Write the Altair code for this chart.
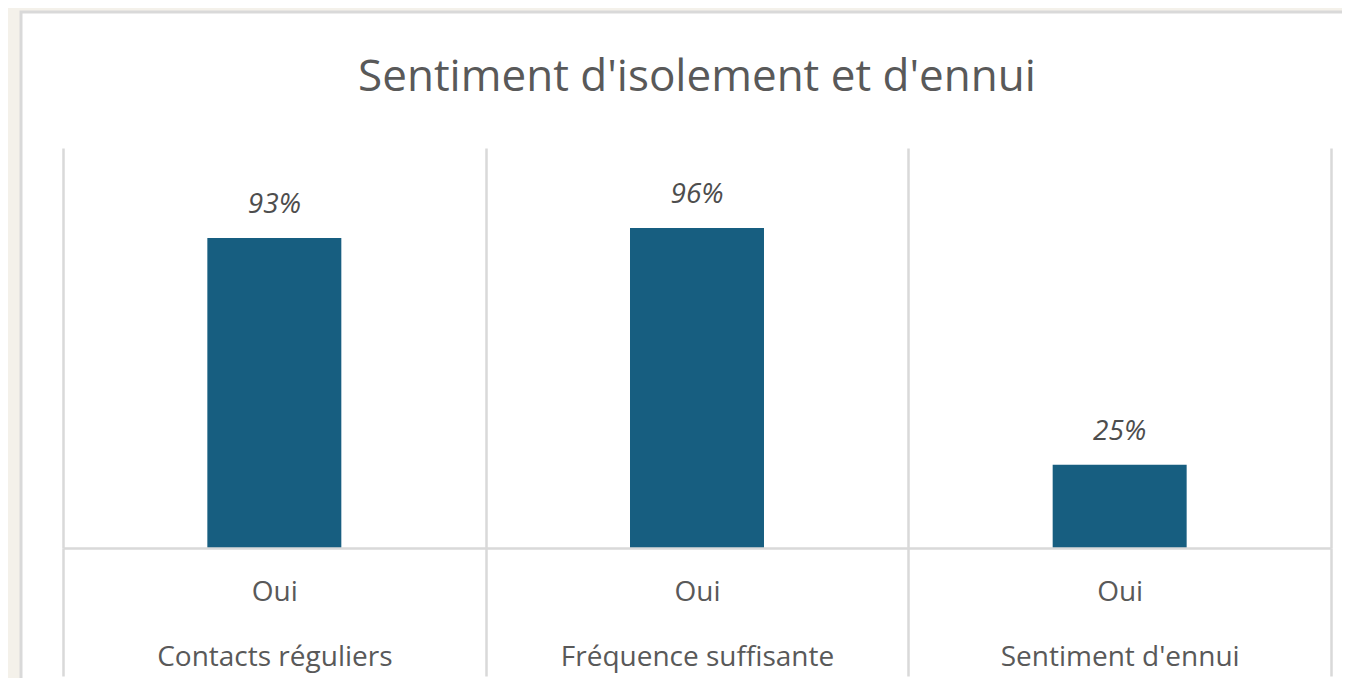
import altair as alt
import pandas as pd

# Data
categories = ["Contacts réguliers", "Fréquence suffisante", "Sentiment d'ennui"]
answers = ["Oui", "Oui", "Oui"]
values = [93, 96, 25]
value_labels = ["93%", "96%", "25%"]

df = pd.DataFrame({
    "categorie": categories,
    "reponse": answers,
    "valeur": values,
    "etiquette": value_labels,
})
df["axe"] = df["reponse"] + "\n" + df["categorie"]

GRID = "#d9d9d9"
TXT = "#595959"
BAR = "#175e80"
FONT = "Open Sans"

W, H = 1268, 400

card = alt.Chart(pd.DataFrame({"k": [0]})).mark_rect(
    fill="white", stroke=GRID, strokeWidth=3
).encode(
    x=alt.value(-42), x2=alt.value(1400), y=alt.value(-136), y2=alt.value(700)
)

xenc = alt.X(
    "axe:N",
    sort=None,
    scale=alt.Scale(paddingInner=0, paddingOuter=0),
    axis=alt.Axis(
        title=None,
        labelAngle=0,
        labelExpr="split(datum.label, '\\n')",
        labelFont=FONT,
        labelFontSize=28,
        labelColor=TXT,
        labelLineHeight=65,
        labelPadding=-98,
        labelLimit=0,
        tickBand="extent",
        tickSize=128,
        tickColor=GRID,
        tickWidth=2.5,
        grid=True,
        gridColor=GRID,
        gridWidth=2.5,
        domainColor=GRID,
        domainWidth=2.5,
        zindex=1,
    ),
)

yenc = alt.Y("valeur:Q", scale=alt.Scale(domain=[0, 120]), axis=None)

bars = alt.Chart(df).mark_bar(color=BAR, width=alt.RelativeBandSize(0.317)).encode(x=xenc, y=yenc)

texts = alt.Chart(df).mark_text(
    font=FONT, fontSize=28, fontStyle="italic", color="#4d4d4d",
    baseline="middle", dy=-33
).encode(x=alt.X("axe:N", sort=None), y="valeur:Q", text="etiquette:N")

chart = alt.layer(card, bars, texts).properties(
    width=W,
    height=H,
    autosize=alt.AutoSizeParams(type="none"),
    padding={"left": 55, "top": 140, "right": 11, "bottom": 130},
    background="#f4f1ea",
    title=alt.TitleParams(
        "Sentiment d'isolement et d'ennui",
        font=FONT, fontSize=44, fontWeight="normal", color=TXT,
        anchor="middle", baseline="middle", offset=-111,
    ),
).configure_view(stroke=None)

chart.save("out.html", embed_options={"renderer": "svg", "actions": False})
